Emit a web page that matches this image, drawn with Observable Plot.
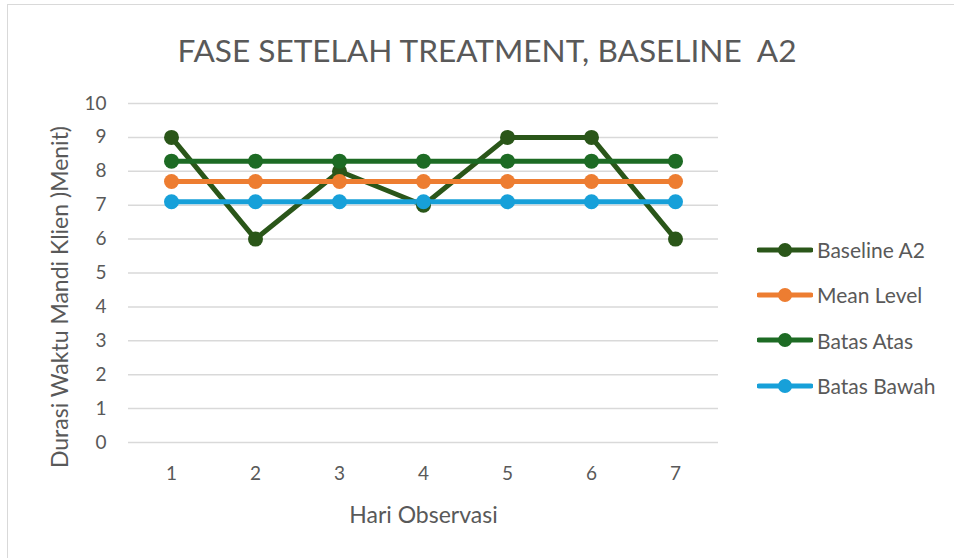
<!DOCTYPE html>
<html>
<head>
<meta charset="utf-8">
<script src="https://cdn.jsdelivr.net/npm/d3@7"></script>
<script src="https://cdn.jsdelivr.net/npm/@observablehq/plot@0.6"></script>
<style>
  html, body { margin: 0; padding: 0; background: #fff; }
  body { width: 954px; height: 558px; overflow: hidden; position: relative; font-family: Lato, "Open Sans", sans-serif; }
  #frame { position: absolute; left: 7px; top: 4px; width: 960px; height: 570px; border: 1.5px solid #d9d9d9; box-sizing: border-box; }
  #title { position: absolute; left: 20px; width: 934px; top: 31px; text-align: center; font-size: 31.6px; color: #595959; white-space: pre; }
  #chart { position: absolute; left: 0; top: 0; }
  #legend { position: absolute; left: 757px; top: 227px; }
  .item { display: flex; align-items: center; height: 45.3px; font-size: 21px; color: #595959; }
  .item svg { margin-right: 4px; }
</style>
</head>
<body>
<div id="frame"></div>
<div id="chart"></div>
<div id="title">FASE SETELAH TREATMENT, BASELINE  A2</div>
<div id="legend"></div>
<script>
const days = [1, 2, 3, 4, 5, 6, 7];
const baselineA2 = [9, 6, 8, 7, 9, 9, 6];
const meanLevel = [7.7, 7.7, 7.7, 7.7, 7.7, 7.7, 7.7];
const batasAtas = [8.3, 8.3, 8.3, 8.3, 8.3, 8.3, 8.3];
const batasBawah = [7.1, 7.1, 7.1, 7.1, 7.1, 7.1, 7.1];
const seriesNames = ["Baseline A2", "Mean Level", "Batas Atas", "Batas Bawah"];
const seriesColors = ["#2a5619", "#ed7d31", "#1d6b24", "#17a0d9"];
const yTicks = [0, 1, 2, 3, 4, 5, 6, 7, 8, 9, 10];

const seriesValues = [baselineA2, meanLevel, batasAtas, batasBawah];
const data = seriesNames.flatMap((name, i) =>
  days.map((d, j) => ({ series: name, day: d, value: seriesValues[i][j] })));

const chart = Plot.plot({
  width: 954,
  height: 558,
  marginLeft: 128,
  marginRight: 236,
  marginTop: 103,
  marginBottom: 116,
  style: { fontFamily: "Lato, 'Open Sans', sans-serif", fontSize: "18px", color: "#595959", background: "transparent", overflow: "visible" },
  x: { type: "point", domain: days, padding: 0.5, label: null },
  y: { domain: [0, 10], label: null },
  color: { domain: seriesNames, range: seriesColors },
  marks: [
    Plot.ruleY(yTicks, { stroke: "#d9d9d9", strokeWidth: 1.5 }),
    Plot.axisY({ ticks: yTicks, tickSize: 0, tickPadding: 22, label: null, fontSize: 19 }),
    Plot.axisX({ tickSize: 0, tickPadding: 24, label: null, fontSize: 19 }),
    Plot.text(["Hari Observasi"], { frameAnchor: "bottom", lineAnchor: "middle", dy: 73, fontSize: 23, fill: "#595959" }),
    Plot.text(["Durasi Waktu Mandi Klien )Menit)"], { frameAnchor: "left", textAnchor: "middle", lineAnchor: "middle", dx: -68, dy: 24, rotate: -90, fontSize: 23, fill: "#595959" }),
    Plot.line(data, { x: "day", y: "value", z: "series", stroke: "series", strokeWidth: 5 }),
    Plot.dot(data, { x: "day", y: "value", fill: "series", r: 7.5 })
  ]
});
document.getElementById("chart").appendChild(chart);

const legend = d3.select("#legend");
seriesNames.forEach((name, i) => {
  const item = legend.append("div").attr("class", "item");
  const svg = item.append("svg").attr("width", 56).attr("height", 16);
  svg.append("line").attr("x1", 2).attr("x2", 54).attr("y1", 8).attr("y2", 8)
    .attr("stroke", seriesColors[i]).attr("stroke-width", 5).attr("stroke-linecap", "round");
  svg.append("circle").attr("cx", 28).attr("cy", 8).attr("r", 7).attr("fill", seriesColors[i]);
  item.append("span").text(name);
});
</script>
</body>
</html>
